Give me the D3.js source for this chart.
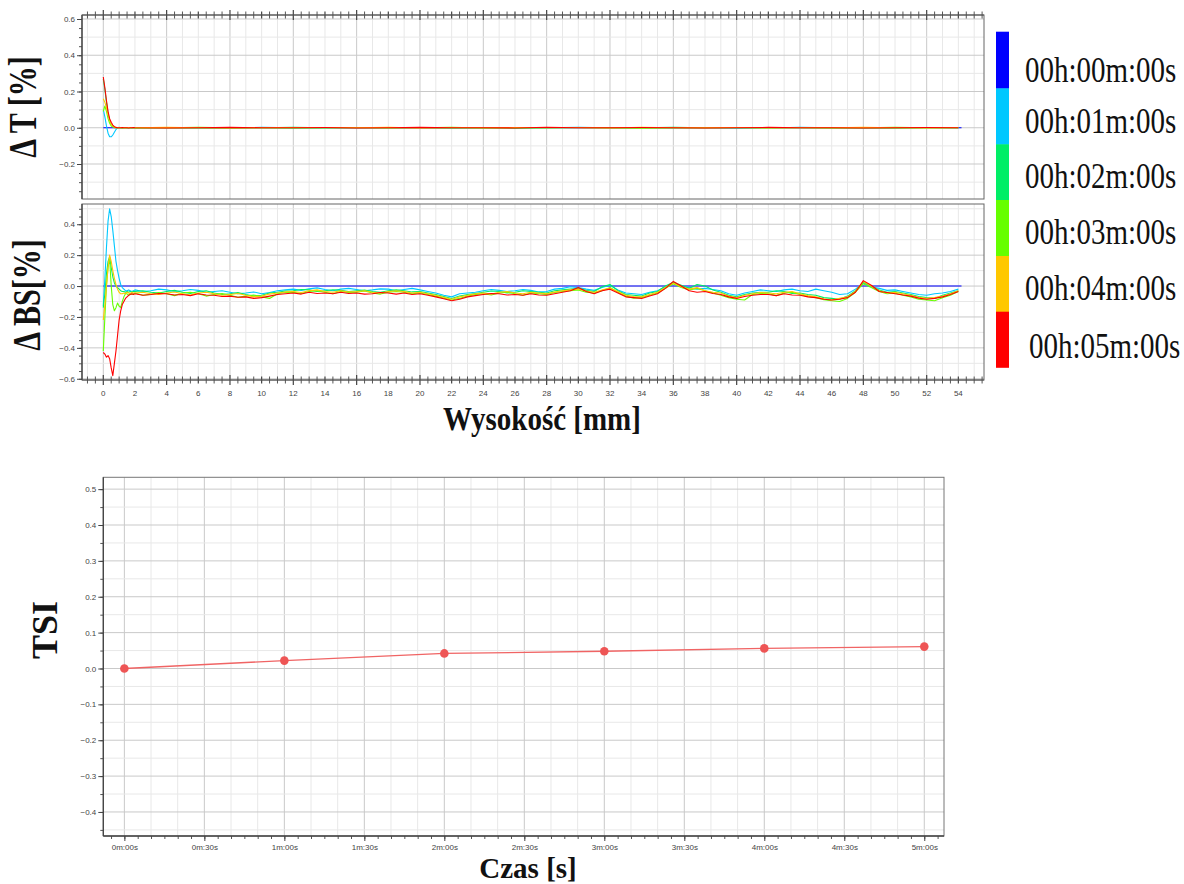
<!DOCTYPE html>
<html>
<head>
<meta charset="utf-8">
<script src="https://cdn.jsdelivr.net/npm/d3@7"></script>
<style>
  body { margin: 0; background: #fff; }
  svg text { font-family: Arial, "Liberation Sans", sans-serif; }
  .tick text { fill: #444; font-size: 8px; }
  .big { font-family: "Liberation Serif", "Times New Roman", serif !important; fill: #111; }
</style>
</head>
<body>
<svg id="chart" width="1184" height="884"></svg>
<script>
// ---- data ----
let legendLabels = ["00h:00m:00s", "00h:01m:00s", "00h:02m:00s", "00h:03m:00s", "00h:04m:00s", "00h:05m:00s"];
let seriesColors = ["#0000ff", "#00c8ff", "#00ee66", "#66ff00", "#ffc800", "#ff0000"];

// reference scan (00h:00m:00s) is flat zero in both panels
let refX = [0, 54.2];
let refValues = [0, 0];

// transmission delta, mm positions
let tX = [0,0.1,0.2,0.3,0.4,0.5,0.6,0.7,0.8,0.9,1.0,1.1,1.2,1.3,1.4,1.5,1.6,1.7,1.8,1.9,
  2,4,6,8,10,12,14,16,18,20,22,24,26,28,30,32,34,36,38,40,42,44,46,48,50,52,54];
let tCyan = [0.10,0.06,0.01,-0.03,-0.05,-0.05,-0.04,-0.025,-0.01,0.0,0.002,0.0,0.001,0.0,0.0,-0.001,0.0,0.001,0.0,0.0,
  0.0,0.001,-0.001,0.0,0.002,0.0,-0.001,0.0,0.001,0.0,-0.002,0.0,0.001,0.0,0.002,0.0,-0.001,0.0,0.001,0.0,-0.001,0.002,0.0,-0.001,0.0,0.001,0.0];
let tGreen = [0.27,0.21,0.14,0.08,0.04,0.02,0.01,0.004,0.0,0.0,0.001,0.0,-0.001,0.0,0.0,0.001,0.0,0.0,-0.001,0.0,
  0.001,0.0,0.0,-0.001,0.0,0.002,0.0,0.0,-0.001,0.001,0.0,0.0,-0.002,0.0,0.001,0.0,0.0,0.002,0.0,-0.001,0.0,0.001,0.0,0.0,-0.001,0.0,0.0];
let tLime = [0.09,0.12,0.09,0.05,0.025,0.01,0.004,0.0,0.0,0.001,0.0,0.0,-0.001,0.0,0.001,0.0,0.0,0.0,0.001,0.0,
  -0.001,0.0,0.002,0.0,0.0,-0.001,0.0,0.001,0.0,0.0,0.002,-0.001,0.0,0.0,0.001,0.0,-0.002,0.0,0.0,0.001,0.0,0.0,-0.001,0.0,0.002,0.0,0.0];
let tOrange = [0.16,0.14,0.11,0.07,0.04,0.02,0.01,0.005,0.0,0.0,0.0,0.001,0.0,0.0,-0.001,0.0,0.001,0.0,0.0,0.0,
  0.0,0.002,0.0,-0.001,0.0,0.001,0.0,0.0,0.002,-0.001,0.0,0.0,0.001,0.0,0.0,-0.001,0.002,0.0,0.0,0.001,-0.001,0.0,0.0,0.002,0.0,-0.001,0.0];
let tRed = [0.28,0.22,0.15,0.09,0.05,0.03,0.015,0.006,0.002,0.0,0.0,0.0,0.001,0.0,0.0,0.0,-0.001,0.0,0.0,0.001,
  0.0,-0.001,0.0,0.002,0.0,0.0,0.001,-0.001,0.0,0.002,0.0,0.0,-0.001,0.003,0.0,0.0,0.001,0.0,-0.001,0.0,0.002,0.0,0.0,-0.001,0.0,0.001,0.0];

// backscattering delta, mm positions
let bsX = [0,0.1,0.2,0.3,0.4,0.5,0.6,0.7,0.8,0.9,1.0,1.1,1.2,1.3,1.4,1.5,1.6,1.7,1.8,1.9,
  2,2.5,3,3.5,4,4.5,5,5.5,6,6.5, 7,7.5,8,8.5,9,9.5,10,10.5,11,11.5,
  12,12.5,13,13.5,14,14.5,15,15.5,16,16.5, 17,17.5,18,18.5,19,19.5,20,20.5,21,21.5,
  22,22.5,23,23.5,24,24.5,25,25.5,26,26.5, 27,27.5,28,28.5,29,29.5,30,30.5,31,31.5,
  32,32.5,33,33.5,34,34.5,35,35.5,36,36.5, 37,37.5,38,38.5,39,39.5,40,40.5,41,41.5,
  42,42.5,43,43.5,44,44.5,45,45.5,46,46.5, 47,47.5,48,48.5,49,49.5,50,50.5,51,51.5,
  52,52.5,53,53.5,54];
let bsCyan = [-0.13,0.05,0.25,0.42,0.50,0.45,0.36,0.26,0.16,0.10,0.05,0.01,-0.01,-0.02,-0.03,-0.03,-0.025,-0.03,-0.035,-0.03,
  -0.025,-0.035,-0.030,-0.020,-0.025,-0.035,-0.030,-0.022,-0.028,-0.040,
  -0.035,-0.030,-0.040,-0.050,-0.045,-0.038,-0.050,-0.042,-0.030,-0.025,
  -0.020,-0.028,-0.018,-0.012,-0.022,-0.030,-0.020,-0.015,-0.022,-0.030,
  -0.025,-0.018,-0.020,-0.030,-0.022,-0.015,-0.025,-0.035,-0.045,-0.060,
  -0.070,-0.050,-0.045,-0.040,-0.030,-0.022,-0.028,-0.035,-0.030,-0.022,
  -0.028,-0.038,-0.035,-0.020,-0.015,-0.005,-0.010,-0.020,-0.028,-0.010,
  0.005,-0.025,-0.045,-0.050,-0.055,-0.040,-0.030,-0.005,0.020,0.000,
  -0.010,-0.020,-0.015,-0.022,-0.030,-0.050,-0.060,-0.045,-0.035,-0.025,
  -0.030,-0.035,-0.025,-0.020,-0.030,-0.035,-0.020,-0.030,-0.040,-0.055,
  -0.050,-0.020,0.020,-0.005,-0.015,-0.028,-0.025,-0.035,-0.045,-0.055,
  -0.060,-0.050,-0.045,-0.035,-0.020];
let bsGreen = [-0.14,-0.05,0.08,0.16,0.19,0.12,0.06,0.02,0.0,-0.01,-0.02,-0.03,-0.035,-0.035,-0.04,-0.035,-0.04,-0.035,-0.04,-0.035,
  -0.035,-0.030,-0.040,-0.045,-0.035,-0.028,-0.040,-0.048,-0.035,-0.030,
  -0.045,-0.055,-0.050,-0.042,-0.055,-0.065,-0.060,-0.045,-0.040,-0.032,
  -0.030,-0.022,-0.025,-0.035,-0.030,-0.024,-0.028,-0.036,-0.030,-0.026,
  -0.035,-0.040,-0.030,-0.025,-0.030,-0.038,-0.035,-0.045,-0.055,-0.068,
  -0.080,-0.065,-0.055,-0.048,-0.040,-0.032,-0.035,-0.045,-0.040,-0.030,
  -0.035,-0.040,-0.045,-0.030,-0.025,-0.020,-0.015,-0.028,-0.035,-0.005,
  0.010,-0.030,-0.055,-0.060,-0.065,-0.045,-0.035,0.000,0.025,0.005,
  -0.015,0.010,0.000,-0.025,-0.040,-0.060,-0.070,-0.055,-0.045,-0.040,
  -0.040,-0.030,-0.035,-0.048,-0.045,-0.055,-0.060,-0.075,-0.080,-0.085,
  -0.065,-0.030,0.025,0.000,-0.025,-0.040,-0.035,-0.045,-0.055,-0.068,
  -0.075,-0.080,-0.060,-0.045,-0.030];
let bsLime = [-0.42,-0.20,0.0,0.12,0.18,0.0,-0.12,-0.16,-0.14,-0.11,-0.13,-0.14,-0.10,-0.07,-0.05,-0.05,-0.06,-0.05,-0.055,-0.05,
  -0.045,-0.060,-0.055,-0.042,-0.050,-0.062,-0.045,-0.040,-0.050,-0.065,
  -0.055,-0.048,-0.060,-0.072,-0.065,-0.058,-0.070,-0.080,-0.050,-0.042,
  -0.040,-0.048,-0.035,-0.030,-0.040,-0.050,-0.035,-0.042,-0.040,-0.032,
  -0.045,-0.052,-0.040,-0.035,-0.040,-0.050,-0.045,-0.055,-0.065,-0.078,
  -0.090,-0.080,-0.065,-0.055,-0.050,-0.058,-0.045,-0.040,-0.050,-0.060,
  -0.045,-0.050,-0.055,-0.042,-0.035,-0.030,-0.025,-0.040,-0.045,-0.030,
  -0.010,-0.040,-0.065,-0.078,-0.075,-0.060,-0.045,-0.015,0.015,-0.010,
  -0.025,-0.015,-0.030,-0.045,-0.060,-0.075,-0.085,-0.090,-0.055,-0.048,
  -0.050,-0.062,-0.045,-0.040,-0.055,-0.068,-0.075,-0.088,-0.095,-0.100,
  -0.080,-0.040,0.015,-0.010,-0.035,-0.050,-0.045,-0.060,-0.070,-0.085,
  -0.090,-0.095,-0.075,-0.060,-0.035];
let bsOrange = [-0.22,-0.12,0.0,0.12,0.20,0.16,0.10,0.05,0.01,-0.02,-0.04,-0.05,-0.05,-0.045,-0.05,-0.04,-0.045,-0.05,-0.04,-0.045,
  -0.045,-0.040,-0.050,-0.055,-0.045,-0.038,-0.050,-0.058,-0.045,-0.040,
  -0.050,-0.060,-0.055,-0.048,-0.060,-0.070,-0.065,-0.052,-0.045,-0.038,
  -0.035,-0.042,-0.030,-0.025,-0.035,-0.040,-0.030,-0.038,-0.035,-0.030,
  -0.040,-0.045,-0.035,-0.030,-0.035,-0.045,-0.040,-0.050,-0.060,-0.072,
  -0.085,-0.070,-0.060,-0.050,-0.045,-0.052,-0.040,-0.035,-0.045,-0.050,
  -0.040,-0.045,-0.050,-0.038,-0.030,-0.025,-0.020,-0.032,-0.040,-0.025,
  -0.015,-0.035,-0.060,-0.068,-0.070,-0.055,-0.040,-0.010,0.020,-0.005,
  -0.020,-0.010,-0.030,-0.040,-0.045,-0.065,-0.075,-0.060,-0.050,-0.042,
  -0.045,-0.050,-0.040,-0.035,-0.050,-0.062,-0.070,-0.082,-0.090,-0.080,
  -0.070,-0.035,0.030,0.000,-0.030,-0.045,-0.040,-0.050,-0.060,-0.072,
  -0.080,-0.075,-0.065,-0.050,-0.030];
let bsRed = [-0.43,-0.44,-0.46,-0.45,-0.47,-0.53,-0.58,-0.50,-0.42,-0.32,-0.22,-0.16,-0.12,-0.10,-0.08,-0.07,-0.06,-0.055,-0.05,-0.055,
  -0.050,-0.060,-0.055,-0.048,-0.050,-0.058,-0.055,-0.062,-0.050,-0.058,
  -0.060,-0.068,-0.065,-0.072,-0.070,-0.080,-0.075,-0.065,-0.055,-0.050,
  -0.045,-0.052,-0.040,-0.048,-0.045,-0.050,-0.040,-0.048,-0.045,-0.052,
  -0.050,-0.042,-0.045,-0.052,-0.045,-0.055,-0.050,-0.060,-0.070,-0.082,
  -0.095,-0.085,-0.070,-0.062,-0.055,-0.048,-0.050,-0.058,-0.055,-0.060,
  -0.050,-0.058,-0.060,-0.050,-0.040,-0.030,-0.010,-0.035,-0.050,-0.030,
  -0.020,-0.045,-0.070,-0.075,-0.080,-0.065,-0.050,-0.015,0.030,0.000,
  -0.030,-0.040,-0.035,-0.048,-0.055,-0.070,-0.080,-0.068,-0.060,-0.055,
  -0.055,-0.062,-0.050,-0.058,-0.060,-0.070,-0.075,-0.085,-0.090,-0.085,
  -0.075,-0.040,0.035,0.005,-0.035,-0.042,-0.050,-0.058,-0.065,-0.078,
  -0.085,-0.080,-0.070,-0.055,-0.035];

// TSI vs time (seconds)
let tsiTime = [0, 60, 120, 180, 240, 300];
let tsiValues = [0, 0.022, 0.042, 0.048, 0.056, 0.061];
let tsiTickLabels = ["0m:00s","0m:30s","1m:00s","1m:30s","2m:00s","2m:30s","3m:00s","3m:30s","4m:00s","4m:30s","5m:00s"];

let tSeries = [tCyan, tGreen, tLime, tOrange, tRed];
let bsSeries = [bsCyan, bsGreen, bsLime, bsOrange, bsRed];

// ---- drawing ----
let svg = d3.select("#chart");
let fmt = d3.format(".1f");

let x = d3.scaleLinear().domain([-1.345, 55.62]).range([82, 984]);
let yT = d3.scaleLinear().domain([-0.393, 0.622]).range([199, 15]);
let yBS = d3.scaleLinear().domain([-0.608, 0.531]).range([380, 204]);

function grid(g, xs, ys, xVals, yVals, xMajor, yMajor) {
  let [x0, x1] = xs.range(), [y0, y1] = ys.range();
  let near = (v, m) => Math.abs(v / m - Math.round(v / m)) < 1e-6;
  g.selectAll(null).data(xVals).join("line")
    .attr("x1", d => xs(d)).attr("x2", d => xs(d)).attr("y1", y0).attr("y2", y1)
    .attr("stroke", d => near(d, xMajor) ? "#c9c9c9" : "#e8e8e8").attr("stroke-width", 1);
  g.selectAll(null).data(yVals).join("line")
    .attr("y1", d => ys(d)).attr("y2", d => ys(d)).attr("x1", x0).attr("x2", x1)
    .attr("stroke", d => near(d, yMajor) ? "#c9c9c9" : "#e8e8e8").attr("stroke-width", 1);
}

function crossTicks(g, y0) {
  let vals = d3.range(-1, 55.6, 0.5);
  g.selectAll(null).data(vals).join("line")
    .attr("x1", d => x(d)).attr("x2", d => x(d))
    .attr("y1", d => y0 - (d % 4 === 0 ? 5 : 3.5)).attr("y2", d => y0 + (d % 4 === 0 ? 5 : 3.5))
    .attr("stroke", "#444").attr("stroke-width", d => d % 2 === 0 ? 1.2 : 0.9);
  g.append("line").attr("x1", 82).attr("x2", 984).attr("y1", y0).attr("y2", y0)
    .attr("stroke", "#555").attr("stroke-width", 1.2);
}

function leftAxis(g, ys, minorVals, majorVals, xPos) {
  g.append("g").attr("transform", `translate(${xPos},0)`)
    .call(d3.axisLeft(ys).tickValues(minorVals).tickSize(3).tickFormat(""))
    .call(a => a.select(".domain").remove())
    .selectAll("line").attr("stroke", "#555");
  let maj = g.append("g").attr("transform", `translate(${xPos},0)`)
    .call(d3.axisLeft(ys).tickValues(majorVals).tickSize(5).tickPadding(2).tickFormat(fmt));
  maj.select(".domain").remove();
  maj.selectAll("line").attr("stroke", "#444");
  let [r0, r1] = ys.range();
  g.append("line").attr("x1", xPos).attr("x2", xPos).attr("y1", r0).attr("y2", r1)
    .attr("stroke", "#444").attr("stroke-width", 1.3);
}

function lines(g, xs, ys, xArr, seriesArr) {
  let line = d3.line().x((d, i) => xs(xArr[i])).y(d => ys(d));
  g.append("path").datum(refValues)
    .attr("d", d3.line().x((d, i) => xs(refX[i])).y(d => ys(d)))
    .attr("fill", "none").attr("stroke", seriesColors[0]).attr("stroke-width", 1.1);
  seriesArr.forEach(function(s, i) {
    g.append("path").datum(s).attr("d", line)
      .attr("fill", "none").attr("stroke", seriesColors[i + 1])
      .attr("stroke-width", 1.1).attr("stroke-linejoin", "round");
  });
}

// --- ΔT panel ---
let gT = svg.append("g");
grid(gT, x, yT, d3.range(-1, 56, 1), d3.range(-0.3, 0.61, 0.1), 4, 0.2);
gT.append("rect").attr("x", 82).attr("y", 15).attr("width", 902).attr("height", 184)
  .attr("fill", "none").attr("stroke", "#666").attr("stroke-width", 1);
svg.append("clipPath").attr("id", "clipT").append("rect")
  .attr("x", 82).attr("y", 15).attr("width", 902).attr("height", 184);
lines(gT.append("g").attr("clip-path", "url(#clipT)"), x, yT, tX, tSeries);
leftAxis(gT, yT, d3.range(-0.35, 0.61, 0.05), [-0.2, 0, 0.2, 0.4, 0.6], 82);
crossTicks(gT, 15);

// --- ΔBS panel ---
let gB = svg.append("g");
grid(gB, x, yBS, d3.range(-1, 56, 1), d3.range(-0.6, 0.51, 0.1), 4, 0.2);
gB.append("rect").attr("x", 82).attr("y", 204).attr("width", 902).attr("height", 176)
  .attr("fill", "none").attr("stroke", "#666").attr("stroke-width", 1);
svg.append("clipPath").attr("id", "clipB").append("rect")
  .attr("x", 82).attr("y", 204).attr("width", 902).attr("height", 176);
lines(gB.append("g").attr("clip-path", "url(#clipB)"), x, yBS, bsX, bsSeries);
leftAxis(gB, yBS, d3.range(-0.6, 0.51, 0.05), [-0.6, -0.4, -0.2, 0, 0.2, 0.4], 82);
crossTicks(gB, 380);
gB.selectAll(null).data(d3.range(0, 55, 2)).join("text")
  .attr("x", d => x(d)).attr("y", 396).attr("text-anchor", "middle")
  .attr("font-size", 8).attr("fill", "#444").text(d => d);

// axis titles, top block
svg.append("text").attr("class", "big")
  .attr("transform", "translate(542,430) scale(1,1.15)")
  .attr("text-anchor", "middle").attr("font-size", 29).attr("font-weight", "bold")
  .text("Wysokość [mm]");
svg.append("text").attr("class", "big")
  .attr("transform", "translate(36,107) rotate(-90) scale(1,1.3)")
  .attr("text-anchor", "middle").attr("font-size", 30).attr("font-weight", "bold")
  .text("Δ T [%]");
svg.append("text").attr("class", "big")
  .attr("transform", "translate(40,295) rotate(-90) scale(1,1.3)")
  .attr("text-anchor", "middle").attr("font-size", 30).attr("font-weight", "bold")
  .text("Δ BS[%]");

// legend (colour bar + labels)
let legY = [31.7, 88.3, 144.3, 200, 256, 311.7, 367.3];
let gL = svg.append("g");
gL.selectAll("rect").data(seriesColors).join("rect")
  .attr("x", 996).attr("width", 13)
  .attr("y", (d, i) => legY[i]).attr("height", (d, i) => legY[i + 1] - legY[i] + 0.5)
  .attr("fill", d => d);
let legBase = [81.7, 133.3, 188.3, 244.3, 300, 358.3];
gL.selectAll("text").data(legendLabels).join("text").attr("class", "big")
  .attr("transform", (d, i) => `translate(${i === 5 ? 1029 : 1025},${legBase[i]}) scale(1,1.26)`)
  .attr("font-size", 29).text(d => d);

// --- TSI panel ---
let xt = d3.scaleLinear().domain([-7.9, 307.4]).range([103.3, 944]);
let yt = d3.scaleLinear().domain([-0.467, 0.533]).range([836, 477.3]);
let gS = svg.append("g");
grid(gS, xt, yt, d3.range(0, 301, 10), d3.range(-0.45, 0.51, 0.05), 30, 0.1);
gS.append("rect").attr("x", 103.3).attr("y", 477.3).attr("width", 944 - 103.3).attr("height", 836 - 477.3)
  .attr("fill", "none").attr("stroke", "#777").attr("stroke-width", 1);
leftAxis(gS, yt, d3.range(-0.45, 0.51, 0.05), d3.range(-0.4, 0.51, 0.1), 103.3);

let bx = gS.append("g").attr("transform", "translate(0,836)");
bx.call(d3.axisBottom(xt).tickValues(d3.range(-5, 306, 5)).tickSize(3).tickFormat(""))
  .call(a => a.select(".domain").remove());
bx.selectAll("line").attr("stroke", "#555");
let bxm = gS.append("g").attr("transform", "translate(0,836)")
  .call(d3.axisBottom(xt).tickValues(d3.range(0, 301, 30)).tickSize(5).tickPadding(3)
    .tickFormat((d, i) => tsiTickLabels[i]));
bxm.select(".domain").remove();
bxm.selectAll("line").attr("stroke", "#444");
gS.append("line").attr("x1", 103.3).attr("x2", 944).attr("y1", 836).attr("y2", 836)
  .attr("stroke", "#444").attr("stroke-width", 1.3);

gS.append("path").datum(tsiValues)
  .attr("d", d3.line().x((d, i) => xt(tsiTime[i])).y(d => yt(d)))
  .attr("fill", "none").attr("stroke", "#f06464").attr("stroke-width", 1.3);
gS.selectAll("circle").data(tsiValues).join("circle")
  .attr("cx", (d, i) => xt(tsiTime[i])).attr("cy", d => yt(d)).attr("r", 4.3)
  .attr("fill", "#ee5555");

svg.append("text").attr("class", "big")
  .attr("transform", "translate(528,878)")
  .attr("text-anchor", "middle").attr("font-size", 29).attr("font-weight", "bold")
  .text("Czas [s]");
svg.append("text").attr("class", "big")
  .attr("transform", "translate(57,630) rotate(-90)")
  .attr("text-anchor", "middle").attr("font-size", 36).attr("font-weight", "bold")
  .text("TSI");
</script>
</body>
</html>
